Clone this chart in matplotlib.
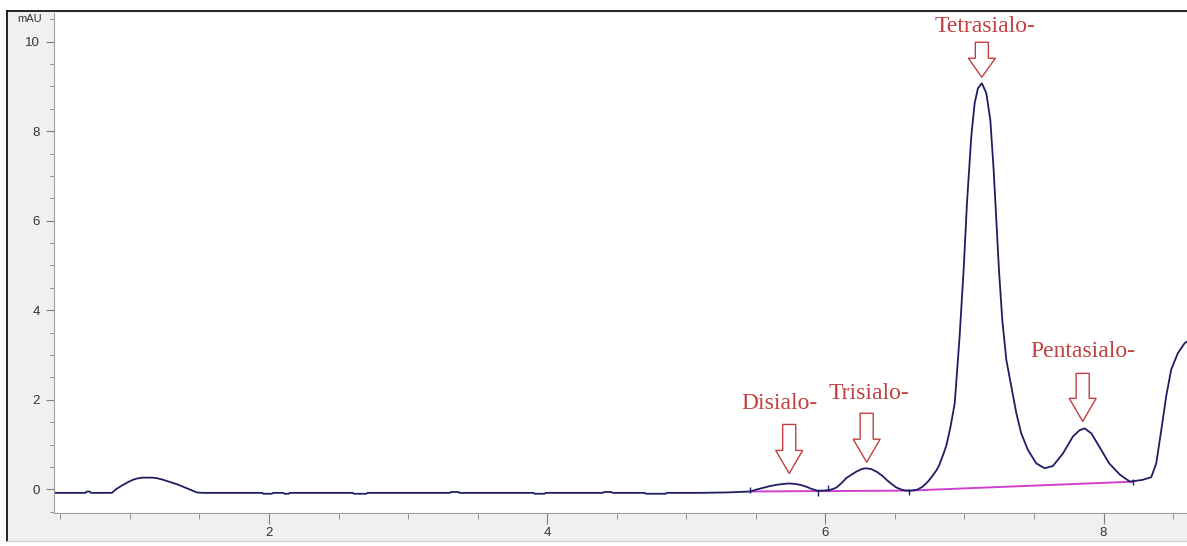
import matplotlib.pyplot as plt
from matplotlib.lines import Line2D
from matplotlib.patches import Rectangle
from matplotlib.ticker import MultipleLocator

W, H, DPI = 1187, 546, 100

# chromatogram trace: retention time (min) vs absorbance (mAU)
trace_time = [
    0.45, 0.68, 0.69, 0.71, 0.72, 0.87, 0.90, 0.94, 0.98, 1.02, 1.05, 1.09,
    1.12, 1.16, 1.19, 1.23, 1.26, 1.30, 1.34, 1.38, 1.41, 1.45, 1.48, 1.52,
    1.95, 1.96, 2.02, 2.03, 2.10, 2.11, 2.14, 2.15, 2.60, 2.61, 2.70, 2.71,
    3.30, 3.31, 3.36, 3.37, 3.90, 3.91, 3.98, 3.99, 4.40, 4.41, 4.46, 4.47,
    4.70, 4.71, 4.85, 4.86, 5.10, 5.30, 5.46, 5.50, 5.55, 5.60, 5.65, 5.70,
    5.74, 5.78, 5.82, 5.86, 5.90, 5.94, 5.98, 6.02, 6.05, 6.08, 6.12, 6.15,
    6.19, 6.22, 6.26, 6.29, 6.33, 6.37, 6.41, 6.44, 6.48, 6.51, 6.55, 6.58,
    6.62, 6.66, 6.70, 6.74, 6.77, 6.80, 6.82, 6.85, 6.87, 6.90, 6.93, 6.965,
    6.994, 7.018, 7.049, 7.073, 7.097, 7.125, 7.157, 7.186, 7.210, 7.229,
    7.248, 7.272, 7.301, 7.337, 7.373, 7.408, 7.456, 7.516, 7.576, 7.636,
    7.708, 7.780, 7.828, 7.864, 7.912, 7.97, 8.04, 8.12, 8.19, 8.28, 8.343,
    8.379, 8.415, 8.450, 8.486, 8.534, 8.582, 8.60,
]
trace_mau = [
    -0.08, -0.08, -0.05, -0.05, -0.08, -0.08, 0.00, 0.08, 0.15, 0.21, 0.24, 0.26,
    0.26, 0.26, 0.25, 0.22, 0.19, 0.15, 0.11, 0.06, 0.02, -0.03, -0.07, -0.08,
    -0.08, -0.10, -0.10, -0.08, -0.08, -0.10, -0.10, -0.08, -0.08, -0.10, -0.10, -0.08,
    -0.08, -0.06, -0.06, -0.08, -0.08, -0.10, -0.10, -0.08, -0.08, -0.06, -0.06, -0.08,
    -0.08, -0.10, -0.10, -0.08, -0.08, -0.07, -0.05, -0.01, 0.03, 0.07, 0.10, 0.12,
    0.13, 0.12, 0.10, 0.06, 0.01, -0.03, -0.03, -0.02, 0.00, 0.04, 0.15, 0.25,
    0.33, 0.39, 0.45, 0.47, 0.45, 0.39, 0.30, 0.21, 0.11, 0.04, -0.01, -0.03,
    -0.03, -0.01, 0.06, 0.18, 0.30, 0.43, 0.55, 0.80, 0.98, 1.40, 1.92, 3.41,
    4.90, 6.39, 7.88, 8.62, 8.96, 9.07, 8.85, 8.25, 7.13, 6.02,
    4.90, 3.78, 2.89, 2.29, 1.70, 1.25, 0.88, 0.58, 0.47, 0.52,
    0.80, 1.18, 1.32, 1.36, 1.25, 0.95, 0.58, 0.32, 0.17, 0.21, 0.27,
    0.58, 1.32, 2.07, 2.67, 3.04, 3.26, 3.30,
]

# integration baseline (magenta) and peak start/stop marks
baseline_time = [5.46, 5.95, 6.02, 6.60, 8.21]
baseline_mau = [-0.05, -0.04, -0.04, -0.03, 0.17]
event_time = [5.46, 5.95, 6.02, 6.60, 8.21]
event_mau = [-0.01, -0.08, 0.02, -0.06, 0.16]

# labelled peaks
peak_names = ["Disialo-", "Trisialo-", "Tetrasialo-", "Pentasialo-"]
peak_time = [5.74, 6.297, 7.125, 7.85]
peak_mau = [0.13, 0.47, 9.07, 1.36]

# label layout in pixels above each apex: arrow top, gap at tip, head length, text centre, text x shift
arrow_top = [59, 55, 41, 55]
arrow_gap = [10, 6, 6, 7]
arrow_head = [23, 23, 19, 23]
text_rise = [80, 75, 57, 77]
text_shift = [-10, 2, 3, 0]

RED = "#c24040"
NAVY = "#1e1e62"
PX = 72 / DPI


def draw_frame(fig):
    fig.patches.append(
        Rectangle((7 / W, 5 / H), 1, (535 - 5) / H, transform=fig.transFigure,
                  facecolor="#f0f0f0", edgecolor="none", zorder=-10)
    )
    for xs, ys in [((7 / W, 7 / W), (5 / H, 535 / H)), ((7 / W, 1), (535 / H, 535 / H))]:
        fig.lines.append(Line2D(xs, ys, transform=fig.transFigure, color="black",
                                lw=1.2, zorder=5))
    fig.lines.append(Line2D((7 / W, 1), (5 / H, 5 / H), transform=fig.transFigure,
                            color="#d4d4d4", lw=1, zorder=5))


def label_peaks(ax):
    for i, name in enumerate(peak_names):
        xy = (peak_time[i], peak_mau[i])
        style = (f"simple,head_length={arrow_head[i] * PX:.1f},"
                 f"head_width={27 * PX:.1f},tail_width={13 * PX:.1f}")
        ax.annotate(
            "", xy=xy, xytext=(0, arrow_top[i] * PX), textcoords="offset points",
            arrowprops=dict(arrowstyle=style, mutation_scale=1, shrinkA=0,
                            shrinkB=arrow_gap[i] * PX, fc="white", ec=RED, lw=1.0),
        )
        ax.annotate(
            name, xy=xy, xytext=(text_shift[i] * PX, text_rise[i] * PX),
            textcoords="offset points", ha="center", va="center",
            fontsize=17, family="Liberation Serif", color=RED,
        )


def main():
    fig = plt.figure(figsize=(W / DPI, H / DPI), dpi=DPI, facecolor="white")
    draw_frame(fig)

    ax = fig.add_axes([54 / W, 33 / H, (W - 54) / W, 500 / H])
    ax.set_facecolor("white")
    ax.plot(trace_time, trace_mau, color=NAVY, lw=1.3)
    ax.plot(baseline_time, baseline_mau, color="#d040d0", lw=1.4, zorder=1)
    ax.plot(event_time, event_mau, ls="none", marker="|", ms=5, color=NAVY, mew=1)
    label_peaks(ax)

    ax.set_xlim(0.454, 8.60)
    ax.set_ylim(-0.53, 10.64)

    for side in ("top", "right"):
        ax.spines[side].set_visible(False)
    for side in ("left", "bottom"):
        ax.spines[side].set_color("#a0a0a0")

    ax.xaxis.set_major_locator(MultipleLocator(2))
    ax.xaxis.set_minor_locator(MultipleLocator(0.5))
    ax.yaxis.set_major_locator(MultipleLocator(2))
    ax.yaxis.set_minor_locator(MultipleLocator(0.5))
    ax.tick_params(which="major", colors="#808080", labelcolor="#333333",
                   labelsize=9.5)
    ax.tick_params(axis="x", which="major", length=8, pad=2)
    ax.tick_params(axis="x", which="minor", length=4, colors="#808080")
    ax.tick_params(axis="y", which="major", length=6, pad=4)
    ax.tick_params(axis="y", which="minor", length=3, colors="#808080")
    for lbl in ax.get_xticklabels() + ax.get_yticklabels():
        lbl.set_family("Liberation Sans")

    ax.annotate("mAU", xy=(0, 10.5), xycoords=("axes fraction", "data"),
                xytext=(-9, 0), textcoords="offset points", ha="right",
                va="center", fontsize=8, family="Liberation Sans", color="#333333")

    fig.savefig("out.png", dpi=DPI, facecolor=fig.get_facecolor())
    plt.close(fig)


if __name__ == "__main__":
    main()
